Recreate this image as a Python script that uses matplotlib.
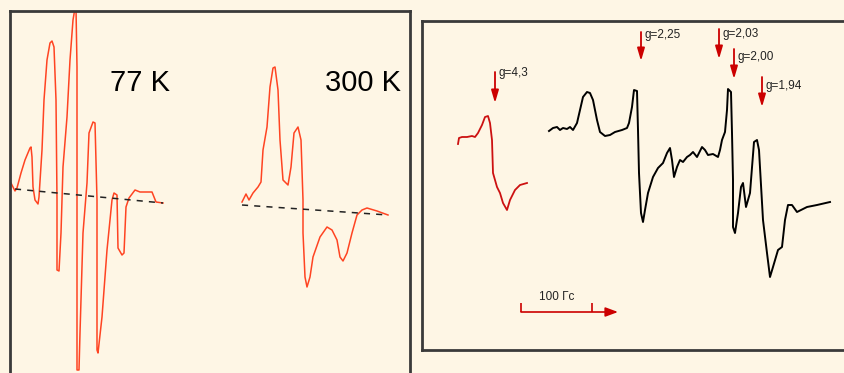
"""EPR spectra: 77 K / 300 K comparison and g-factor annotated spectrum."""

import matplotlib.pyplot as plt

plt.rcParams["font.family"] = ["Liberation Sans", "DejaVu Sans"]

BG = "#fef6e5"
FRAME = "#3a3a3a"
ORANGE = "#ff4422"
RED = "#cc1111"
ARROW_RED = "#cc0000"

# --- left panel (pixel-like units of the original drawing) ---
t77_x = [11, 15, 17, 21, 25, 30, 31, 32, 33, 35, 38, 39, 42, 44, 47, 50, 52, 54,
         56, 57, 57, 59, 61, 63, 67, 70, 73, 75, 76, 77, 77, 77, 79, 80, 83, 87,
         89, 93, 95, 97, 97, 98, 102, 107, 112, 114, 117, 118, 122, 124, 126, 129,
         135, 140, 147, 152, 156, 163]
t77_y = [183, 191, 188, 173, 160, 148, 147, 157, 187, 200, 204, 197, 150, 100, 60,
         43, 41, 47, 100, 200, 270, 271, 233, 167, 117, 60, 20, 8, 8, 67, 333, 370,
         370, 333, 233, 183, 133, 122, 123, 200, 350, 353, 317, 250, 200, 193, 195,
         248, 255, 253, 207, 198, 190, 192, 192, 192, 202, 203]
base77_x = [15, 163]
base77_y = [189, 203]

t300_x = [242, 246, 249, 253, 258, 261, 263, 267, 270, 273, 275, 278, 280, 283,
          288, 291, 294, 298, 301, 303, 303, 305, 307, 310, 313, 320, 327, 332,
          337, 340, 343, 347, 352, 357, 362, 367, 377, 388]
t300_y = [202, 194, 200, 193, 187, 182, 150, 127, 87, 68, 67, 90, 140, 180, 185,
          167, 133, 127, 140, 200, 233, 277, 287, 277, 257, 237, 227, 230, 240,
          257, 261, 253, 233, 215, 210, 208, 211, 215]
base300_x = [242, 388]
base300_y = [205, 215]

temp_labels = ["77 K", "300 K"]
temp_label_x = [140, 363]
temp_label_y = [83, 83]

# --- right panel ---
fe_x = [458, 459, 462, 467, 472, 475, 478, 482, 485, 488, 490, 492, 493, 497,
        500, 503, 507, 510, 515, 520, 527]
fe_y = [144, 138, 137, 137, 136, 137, 133, 125, 117, 116, 123, 140, 173, 187,
        193, 203, 210, 200, 190, 185, 183]

spec_x = [549, 553, 557, 560, 563, 567, 570, 573, 577, 580, 583, 587, 590, 593,
          597, 600, 605, 610, 615, 622, 627, 629, 632, 634, 637, 638, 639, 641,
          643, 645, 648, 653, 658, 663, 667, 670, 672, 674, 677, 680, 683, 687,
          690, 693, 697, 702, 705, 708, 713, 718, 720, 722, 725, 727, 728, 731,
          732, 733, 733, 735, 738, 741, 743, 746, 750, 754, 757, 759, 763, 767,
          770, 773, 778, 782, 785, 788, 792, 797, 807, 817, 830]
spec_y = [131, 128, 127, 130, 128, 129, 127, 130, 123, 110, 97, 92, 93, 100,
          120, 132, 136, 135, 132, 130, 128, 123, 107, 90, 91, 130, 173, 213,
          222, 210, 193, 177, 168, 163, 153, 148, 160, 177, 167, 160, 162, 157,
          155, 152, 157, 147, 150, 155, 154, 157, 150, 140, 132, 110, 89, 92,
          133, 180, 227, 233, 213, 187, 183, 207, 193, 142, 140, 150, 220, 253,
          277, 267, 250, 247, 220, 205, 205, 212, 207, 205, 202]

g_labels = ["g=4,3", "g=2,25", "g=2,03", "g=2,00", "g=1,94"]
g_arrow_x = [495, 641, 719, 734, 762]
g_arrow_top = [72, 32, 29, 49, 77]
g_arrow_tip = [103, 61, 59, 79, 107]
g_label_y = [73, 35, 34, 57, 86]

scale_start = 521
scale_tick = 592
scale_end = 618
scale_y = 312
scale_label = "100 Гс"

fig = plt.figure(figsize=(8.45, 3.73), dpi=100, facecolor=BG)
W, H = 845, 373


def _panel(x0, x1, y_top, y_bottom, hide_bottom=False):
    ax = fig.add_axes([x0 / W, (H - y_bottom) / H, (x1 - x0) / W, (y_bottom - y_top) / H])
    ax.set_xlim(x0, x1)
    ax.set_ylim(y_bottom, y_top)
    ax.set_facecolor(BG)
    ax.set_xticks([])
    ax.set_yticks([])
    for side, spine in ax.spines.items():
        spine.set_color(FRAME)
        spine.set_linewidth(2)
    if hide_bottom:
        ax.spines["bottom"].set_visible(False)
    return ax


left = _panel(10, 410, 11, 390, hide_bottom=True)
left.plot(t77_x, t77_y, color=ORANGE, lw=1.1)
left.plot(base77_x, base77_y, color="#222222", lw=1.1, ls=(0, (4, 4)))
left.plot(t300_x, t300_y, color=ORANGE, lw=1.1)
left.plot(base300_x, base300_y, color="#222222", lw=1.1, ls=(0, (4, 4)))
for label, x, y in zip(temp_labels, temp_label_x, temp_label_y):
    left.text(x, y, label, fontsize=21, ha="center", va="center", color="black")

right = _panel(422, 860, 21, 350)
right.plot(fe_x, fe_y, color=RED, lw=1.3)
right.plot(spec_x, spec_y, color="black", lw=1.4)

for label, x, top, tip, ly in zip(g_labels, g_arrow_x, g_arrow_top, g_arrow_tip, g_label_y):
    right.annotate("", xy=(x, tip), xytext=(x, top),
                   arrowprops=dict(arrowstyle="-|>,head_length=0.75,head_width=0.22",
                                   color=ARROW_RED, lw=1.3, shrinkA=0, shrinkB=0))
    right.text(x + 4, ly, label, fontsize=8.5, ha="left", va="center", color="#222222")

# field scale bar
right.annotate("", xy=(scale_end, scale_y), xytext=(scale_start, scale_y),
               arrowprops=dict(arrowstyle="-|>,head_length=0.75,head_width=0.28",
                               color=ARROW_RED, lw=1.2, shrinkA=0, shrinkB=0))
right.vlines([scale_start, scale_tick], scale_y - 9, scale_y, color=ARROW_RED, lw=1.2)
right.text((scale_start + scale_tick) / 2, scale_y - 15, scale_label, fontsize=8.5,
           ha="center", va="center", color="#222222")

fig.savefig("out.png", dpi=100, facecolor=BG)
